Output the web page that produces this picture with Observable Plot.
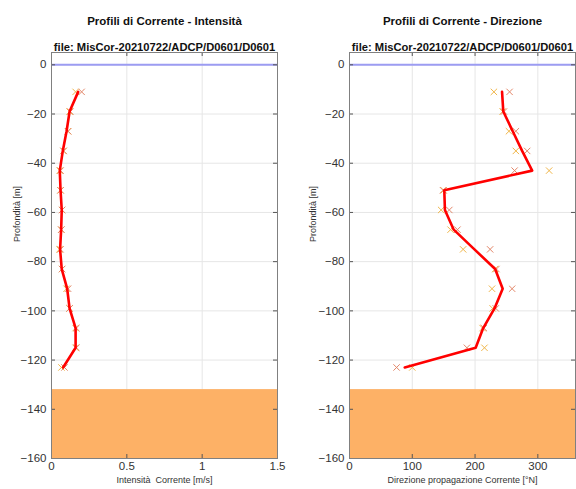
<!DOCTYPE html>
<html>
<head>
<meta charset="utf-8">
<script src="https://cdn.jsdelivr.net/npm/d3@7"></script>
<script src="https://cdn.jsdelivr.net/npm/@observablehq/plot@0.6"></script>
<style>
  html, body { margin: 0; padding: 0; background: #fff; }
  #wrap { display: flex; flex-direction: row; width: 576px; height: 489px; }
  svg { font-family: "Liberation Sans", Arial, Helvetica, sans-serif; }
</style>
</head>
<body>
<div id="wrap"></div>
<script>
// ---- data ----
const depth = [-11, -19, -27, -35, -43, -51, -59, -67, -75, -83, -91, -99, -107, -115, -123];

const intensityMean = [0.177, 0.12, 0.10, 0.075, 0.055, 0.06, 0.068, 0.064, 0.057, 0.068, 0.104, 0.12, 0.16, 0.16, 0.077];
const intensityA    = [0.16, 0.12, 0.11, 0.08, 0.055, 0.06, 0.07, 0.065, 0.053, 0.07, 0.10, 0.12, 0.16, 0.16, 0.066];
const intensityB    = [0.20, 0.125, 0.11, 0.08, 0.06, 0.06, 0.07, 0.065, 0.06, 0.07, 0.11, 0.12, 0.165, 0.165, 0.086];

const directionMean = [243, 245, 260, 275, 291, 151, 152, 166, 199, 232, 244, 231, 213, 201, 88];
const directionA    = [230, 244, 254, 265, 318, 150, 146, 161, 181, 232, 227, 228, 212, 215, 100];
const directionB    = [255, 246, 265, 283, 263, 149, 159, 172, 224, 234, 259, 233, 214, 187, 75];

const seabed = -132;
const yDomain = [-160, 5];
const yTicks = [0, -20, -40, -60, -80, -100, -120, -140, -160];

const intensityDomain = [0, 1.5];
const intensityTicks = [0, 0.5, 1, 1.5];
const directionDomain = [0, 360];
const directionTicks = [0, 100, 200, 300];

const fileLabel = "file: MisCor-20210722/ADCP/D0601/D0601";

function panel({title, xlabel, xDomain, xTicks, xFormat, mean, a, b, marginLeft, marginRight}) {
  const rows = depth.map((d, i) => ({depth: d, mean: mean[i], a: a[i], b: b[i]}));
  const spanX = xDomain[1] - xDomain[0];
  const spanY = yDomain[1] - yDomain[0];
  const tx = spanX * 4 / 226;
  const ty = spanY * 4 / 406;
  return Plot.plot({
    width: 288,
    height: 489,
    marginTop: 52,
    marginBottom: 31,
    marginLeft,
    marginRight,
    style: {fontFamily: '"Liberation Sans", Arial, sans-serif', fontSize: "11px", color: "#444"},
    x: {domain: xDomain},
    y: {domain: yDomain},
    marks: [
      Plot.ruleX(xTicks, {stroke: "#e6e6e6", strokeWidth: 1}),
      Plot.ruleY(yTicks, {stroke: "#e6e6e6", strokeWidth: 1}),
      Plot.rect([seabed], {x1: xDomain[0], x2: xDomain[1], y1: yDomain[0], y2: d => d, fill: "#fdb166"}),
      Plot.ruleY([0], {stroke: "#9c9cf2", strokeWidth: 2}),
      Plot.dot(rows, {x: "a", y: "depth", symbol: "times", r: 3, stroke: "#f0b64a", strokeWidth: 1}),
      Plot.dot(rows, {x: "b", y: "depth", symbol: "times", r: 3, stroke: "#e3876a", strokeWidth: 1}),
      Plot.line(rows, {x: "mean", y: "depth", stroke: "#ff0000", strokeWidth: 2.6, curve: "linear"}),
      // inward ticks (box style)
      Plot.ruleY(yTicks, {x1: xDomain[0], x2: xDomain[0] + tx, stroke: "#555"}),
      Plot.ruleY(yTicks, {x1: xDomain[1] - tx, x2: xDomain[1], stroke: "#555"}),
      Plot.ruleX(xTicks, {y1: yDomain[0], y2: yDomain[0] + ty, stroke: "#555"}),
      Plot.ruleX(xTicks, {y1: yDomain[1] - ty, y2: yDomain[1], stroke: "#555"}),
      Plot.frame({stroke: "#808080", strokeWidth: 1}),
      Plot.axisX(xTicks, {anchor: "bottom", tickSize: 0, tickPadding: 3, tickFormat: xFormat, label: null, fontSize: 11.5, fill: "#333"}),
      Plot.axisY(yTicks, {anchor: "left", tickSize: 0, tickPadding: 5, label: null, fontSize: 11.5, fill: "#333"}),
      Plot.text([title], {frameAnchor: "top", dy: -36, fontWeight: "bold", fontSize: 11.5, fill: "#111"}),
      Plot.text([fileLabel], {frameAnchor: "top", dy: -9, fontWeight: "bold", fontSize: 11.2, fill: "#111"}),
      Plot.text([xlabel], {frameAnchor: "bottom", dy: 24, fontSize: 9, fill: "#333"}),
      Plot.text(["Profondità [m]"], {frameAnchor: "left", y: [-72], dx: marginLeft === 51 ? -34 : -36, rotate: -90, fontSize: 9, fill: "#333"})
    ]
  });
}

const wrap = document.getElementById("wrap");
wrap.appendChild(panel({
  title: "Profili di Corrente - Intensità",
  xlabel: "Intensità  Corrente [m/s]",
  xDomain: intensityDomain, xTicks: intensityTicks, xFormat: d => String(d),
  mean: intensityMean, a: intensityA, b: intensityB,
  marginLeft: 51, marginRight: 11
}));
wrap.appendChild(panel({
  title: "Profili di Corrente - Direzione",
  xlabel: "Direzione propagazione Corrente [°N]",
  xDomain: directionDomain, xTicks: directionTicks, xFormat: d => String(d),
  mean: directionMean, a: directionA, b: directionB,
  marginLeft: 61, marginRight: 1
}));
</script>
</body>
</html>
